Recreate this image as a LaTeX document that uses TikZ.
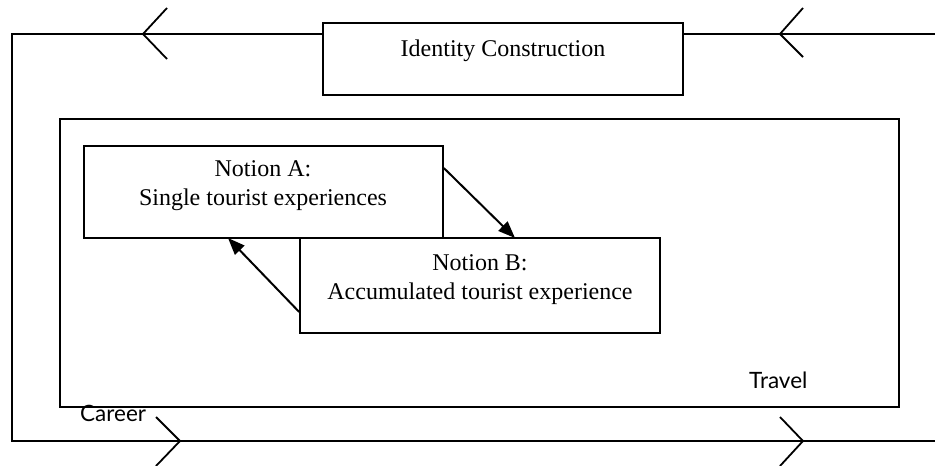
\documentclass[tikz,border=0pt]{standalone}
\usepackage{fontspec}
\setmainfont{Liberation Serif}
\newfontfamily\lbl{Lato}
\usetikzlibrary{arrows.meta}
\begin{document}
\begin{tikzpicture}[x=1pt,y=-1pt,
  boxnode/.style={draw,line width=1.6pt,inner sep=0pt},
  txt/.style={align=center,font=\fontsize{24}{28.5}\selectfont,inner sep=0pt},
  loop/.style={line width=2pt},
  chev/.style={line width=1.8pt},
  flow/.style={line width=2pt,-{Triangle[length=17pt,width=13pt]}},
  sidelbl/.style={font=\lbl\fontsize{22.5}{26}\selectfont,inner sep=0pt,anchor=base west}]
\useasboundingbox (0,0) rectangle (935,466);
% boxes
\node[boxnode,minimum width=360pt,minimum height=72pt] (idc) at (503,59) {};
\node[txt,anchor=base] (idct) at (503,56) {Identity Construction};
\node[boxnode,minimum width=839pt,minimum height=288pt] (travel) at (479.5,263) {};
\node[boxnode,minimum width=359pt,minimum height=92pt] (na) at (263.5,192) {};
\node[txt] (nat) at (263,185.6) {Notion A:\\Single tourist experiences};
\node[boxnode,minimum width=360pt,minimum height=95pt] (nb) at (480,285.5) {};
\node[txt] (nbt) at (480,279.6) {Notion B:\\Accumulated tourist experience};
% labels
\node[sidelbl] (career) at (80,421) {Career};
\node[sidelbl] (trav) at (749,388) {Travel};
% outer loop
\coordinate (tl) at (12,34);
\coordinate (bl) at (12,441);
\coordinate (br) at (935,441);
\coordinate (tr) at (935,34);
\draw[loop] (idc.west |- tl) -- (tl) -- (bl) -- (br);
\draw[loop] (tr) -- (idc.east |- tr);
% chevrons
\draw[chev] (167,8) -- (143,34) -- (167,59);
\draw[chev] (803,8) -- (780,34) -- (803,57);
\draw[chev] (156,417) -- (180,441) -- (156,466);
\draw[chev] (780,417) -- (803,441) -- (780,466);
% flows
\coordinate (a1) at (na.east |- 0,168);
\coordinate (b1) at (nb.west |- 0,312);
\draw[flow] (a1) -- (515,238);
\draw[flow] (b1) -- (228,238);
\end{tikzpicture}
\end{document}
